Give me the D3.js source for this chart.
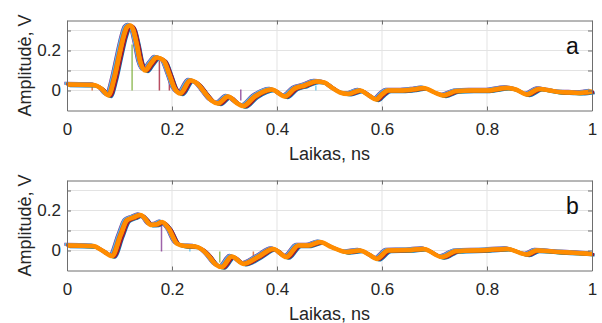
<!DOCTYPE html>
<html>
<head>
<meta charset="utf-8">
<script src="https://cdn.jsdelivr.net/npm/d3@7"></script>
<style>
  body { margin: 0; background: #fff; }
  svg text { font-family: "Liberation Sans", Arial, sans-serif; fill: #262626; }
</style>
</head>
<body>
<div id="chart"></div>
<script>
// time axis (ns) and amplitude (V)
const timeA = [0, 0.05, 0.065, 0.079, 0.09, 0.1, 0.108, 0.114, 0.12, 0.126, 0.133, 0.14, 0.149, 0.16, 0.171, 0.184, 0.195, 0.205, 0.216, 0.235, 0.25, 0.262, 0.275, 0.288, 0.307, 0.322, 0.336, 0.358, 0.39, 0.415, 0.434, 0.453, 0.475, 0.49, 0.504, 0.52, 0.536, 0.558, 0.575, 0.589, 0.6, 0.612, 0.635, 0.66, 0.679, 0.7, 0.717, 0.742, 0.77, 0.8, 0.838, 0.855, 0.876, 0.9, 0.92, 0.939, 0.96, 0.977, 1];
const ampA = [0.03, 0.028, 0.01, -0.025, 0.06, 0.18, 0.27, 0.315, 0.325, 0.305, 0.23, 0.14, 0.1, 0.135, 0.165, 0.15, 0.08, 0.01, -0.015, 0.05, 0.03, -0.01, -0.05, -0.065, -0.03, -0.06, -0.078, -0.03, 0.005, -0.03, 0.01, 0.025, 0.045, 0.04, 0.015, -0.01, -0.017, 0, -0.025, -0.045, -0.02, 0, 0, 0.005, 0.012, -0.01, -0.025, -0.003, 0, 0, 0.013, 0.005, -0.02, 0.008, 0, -0.008, -0.01, -0.012, -0.005];

const timeB = [0, 0.05, 0.067, 0.086, 0.102, 0.114, 0.127, 0.14, 0.149, 0.159, 0.17, 0.181, 0.194, 0.21, 0.225, 0.244, 0.257, 0.269, 0.283, 0.295, 0.314, 0.336, 0.364, 0.393, 0.418, 0.441, 0.46, 0.482, 0.504, 0.533, 0.558, 0.575, 0.59, 0.612, 0.65, 0.679, 0.714, 0.742, 0.8, 0.838, 0.876, 0.895, 0.939, 0.97, 1];
const ampB = [0.025, 0.022, 0, -0.028, 0.075, 0.15, 0.165, 0.178, 0.158, 0.128, 0.13, 0.142, 0.108, 0.033, 0.022, 0.02, 0.005, -0.025, -0.07, -0.083, -0.03, -0.067, -0.033, 0.008, -0.033, 0.025, 0.025, 0.042, 0.017, -0.008, 0, -0.02, -0.042, 0, 0.002, 0.008, -0.033, -0.003, 0.002, 0.008, -0.02, 0, -0.008, -0.012, -0.017];

// overlapping measurement traces: colour, time spread (ns), level spread (V)
const traceColors = ["#0072BD", "#7E2F8E", "#4DBEEE", "#77AC30", "#A2142F", "#D95319", "#EDB120", "#FF8C00"];
const traceShift = [0.005, -0.005, -0.004, 0.003, 0.004, -0.002, 0.001, 0];
const traceLift = [-0.006, 0.006, 0.005, -0.004, -0.003, 0.003, 0.001, 0];

// single-sample glitches: time, from, to, colour index
const spikesA = [[0.048, 0.03, 0.0, 5], [0.124, 0.23, 0, 3], [0.176, 0.15, 0, 4], [0.195, 0.05, 0, 4], [0.331, 0.005, -0.05, 1], [0.474, 0.025, 0, 2]];
const spikesB = [[0.18, 0.125, -0.005, 1], [0.234, 0.01, -0.005, 2], [0.291, -0.005, -0.06, 3], [0.355, -0.005, -0.038, 5]];

const xTicks = [0, 0.2, 0.4, 0.6, 0.8, 1];
const xTickLabels = ["0", "0.2", "0.4", "0.6", "0.8", "1"];
const yTicks = [0, 0.1, 0.2, 0.3];
const yTickLabels = ["0", "", "0.2", ""];
const panels = [
  { tag: "a", time: timeA, amp: ampA, spikes: spikesA },
  { tag: "b", time: timeB, amp: ampB, spikes: spikesB }
];

const width = 602, height = 323;
const left = 67, right = 592, plotH = 90;
const tops = [20.5, 180.5];

const svg = d3.select("#chart").append("svg")
  .attr("width", width)
  .attr("height", height);

const x = d3.scaleLinear().domain([0, 1]).range([left, right]);

panels.forEach(function (p, k) {
  const top = tops[k];
  const y = d3.scaleLinear().domain([-0.1, 0.35]).range([top + plotH, top]);
  const g = svg.append("g");

  // grid
  g.selectAll(".vgrid").data(xTicks.slice(1, -1)).enter().append("line")
    .attr("x1", d => x(d)).attr("x2", d => x(d))
    .attr("y1", top).attr("y2", top + plotH)
    .style("stroke", "#e3e3e3").style("stroke-width", 1);
  g.selectAll(".hgrid").data(yTicks).enter().append("line")
    .attr("x1", left).attr("x2", right)
    .attr("y1", d => y(d)).attr("y2", d => y(d))
    .style("stroke", "#e3e3e3").style("stroke-width", 1);

  // glitches sit under the band
  g.selectAll(".spike").data(p.spikes).enter().append("line")
    .attr("x1", d => x(d[0])).attr("x2", d => x(d[0]))
    .attr("y1", d => y(d[1])).attr("y2", d => y(d[2]))
    .style("stroke", d => traceColors[d[3]])
    .style("stroke-width", 1.5)
    .style("opacity", 0.75);

  // traces
  traceColors.forEach(function (c, i) {
    const line = d3.line()
      .x((d, j) => x(p.time[j] + traceShift[i]))
      .y(d => y(d + traceLift[i]))
      .curve(d3.curveMonotoneX);
    const last = i === traceColors.length - 1;
    g.append("path")
      .datum(p.amp)
      .attr("d", line)
      .style("fill", "none")
      .style("stroke", c)
      .style("stroke-width", last ? 4.5 : 3)
      .style("stroke-linejoin", "round");
  });

  // inward ticks on all four sides
  const bottomAx = d3.axisBottom(x).tickValues(xTicks).tickSizeInner(-4).tickSizeOuter(0).tickFormat((d, i) => xTickLabels[i]);
  const topAx = d3.axisTop(x).tickValues(xTicks).tickSizeInner(-4).tickSizeOuter(0).tickFormat("");
  const leftAx = d3.axisLeft(y).tickValues(yTicks).tickSizeInner(-4).tickSizeOuter(0).tickFormat((d, i) => yTickLabels[i]);
  const rightAx = d3.axisRight(y).tickValues(yTicks).tickSizeInner(-4).tickSizeOuter(0).tickFormat("");

  const axes = [
    g.append("g").attr("transform", "translate(0," + (top + plotH) + ")").call(bottomAx),
    g.append("g").attr("transform", "translate(0," + top + ")").call(topAx),
    g.append("g").attr("transform", "translate(" + left + ",0)").call(leftAx),
    g.append("g").attr("transform", "translate(" + right + ",0)").call(rightAx)
  ];
  axes.forEach(a => {
    a.select(".domain").style("stroke", "#6e6e6e");
    a.selectAll(".tick line").style("stroke", "#6e6e6e");
    a.selectAll(".tick text").style("font-size", "17px").style("font-family", "Liberation Sans, Arial, sans-serif").attr("fill", "#262626");
  });
  axes[0].selectAll(".tick text").attr("y", 12);
  axes[2].selectAll(".tick text").attr("x", -6);

  // axis labels
  svg.append("text")
    .attr("x", (left + right) / 2)
    .attr("y", top + 139)
    .attr("text-anchor", "middle")
    .style("font-size", "18px")
    .text("Laikas, ns");

  svg.append("text")
    .attr("transform", "translate(31," + (top + 45) + ") rotate(-90)")
    .attr("text-anchor", "middle")
    .style("font-size", "18px")
    .text("Amplitudė, V");

  svg.append("text")
    .attr("x", 566)
    .attr("y", top + 33)
    .style("font-size", "23px")
    .style("fill", "#111")
    .text(p.tag);
});
</script>
</body>
</html>
